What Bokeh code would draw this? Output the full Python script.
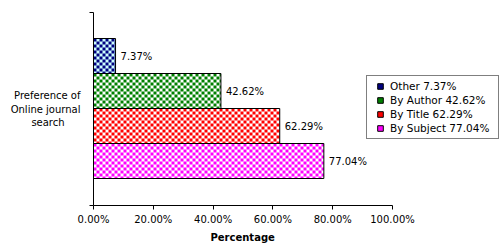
import math
from bokeh.plotting import figure
from bokeh.models import (Range1d, FixedTicker, PrintfTickFormatter, Legend, LegendItem,
                          Title, ColumnDataSource)
from bokeh.embed import file_html
from bokeh.resources import INLINE
from bokeh.core.properties import value

# ---- data ----
categories = ["Other", "By Author", "By Title", "By Subject"]
percentages = [7.37, 42.62, 62.29, 77.04]
fg_colors = ["#000080", "#008000", "#FF0000", "#FF00FF"]
bg_colors = ["#CCFFFF", "#FFFFFF", "#FFFFFF", "#FFFFFF"]
x_ticks = [0, 20, 40, 60, 80, 100]
axis_title = "Percentage"
group_label_lines = ["Preference of", "Online journal", "search"]

FONT = "DejaVu Sans"

W, H = 504, 250
LEFT, TOP, BOTTOM = 93, 12, 45
frame_w = W - LEFT
frame_h = H - TOP - BOTTOM

n = len(categories)
ypos = [n - 1 - i for i in range(n)]  # Other at top
PX_PER_BAR = 35.0
y_end = (n - 1) + 0.5 + 26.0 / PX_PER_BAR
y_start = y_end - frame_h / PX_PER_BAR
x_start, x_end = 0.0, 100.0 * frame_w / 299.0

p = figure(width=W, height=H, output_backend="svg", toolbar_location=None,
           x_range=Range1d(x_start, x_end), y_range=Range1d(y_start, y_end),
           min_border_left=LEFT, min_border_right=0, min_border_top=TOP,
           min_border_bottom=BOTTOM)
p.outline_line_color = None
p.xgrid.visible = False
p.ygrid.visible = False
p.background_fill_color = "white"
p.border_fill_color = "white"

# checker texture cell size (screen px) converted to data units
CELL = 3
dx = CELL * (x_end - x_start) / frame_w
dy = CELL * (y_end - y_start) / frame_h
BAR_H = 1.0

items = []
for i in range(n):
    val = percentages[i]
    yc = ypos[i]
    src = ColumnDataSource(dict(y=[yc], right=[val], lbl=[f"{val:.2f}%"]))
    p.hbar(y="y", right="right", left=0, height=BAR_H, source=src,
           fill_color=bg_colors[i], line_color=None)
    top_y = yc + BAR_H / 2
    bot_y = yc - BAR_H / 2
    ncols = math.ceil(val / dx)
    nrows = math.ceil(BAR_H / dy)
    L, R, T, B = [], [], [], []
    for r in range(nrows):
        for c in range(ncols):
            if (r + c) % 2 == 0:
                L.append(c * dx)
                R.append(min((c + 1) * dx, val))
                T.append(top_y - r * dy)
                B.append(max(top_y - (r + 1) * dy, bot_y))
    p.quad(left=L, right=R, top=T, bottom=B, fill_color=fg_colors[i], line_color=None)
    p.hbar(y="y", right="right", left=0, height=BAR_H, source=src,
           fill_color=None, line_color="black", line_width=1)
    p.text(x="right", y="y", text="lbl", source=src, x_offset=5,
           text_baseline="middle", text_align="left",
           text_font=value(FONT), text_font_size="10px", text_color="black")
    # legend swatch: a NaN point, so it only shows up as the legend glyph
    swatch = p.scatter(x=[float("nan")], y=[float("nan")], marker="square",
                       fill_color=fg_colors[i], line_color="black", line_width=1)
    items.append(LegendItem(label=f"{categories[i]} {val:.2f}%", renderers=[swatch]))

legend = Legend(items=items, location=(273, 66), orientation="vertical",
                padding=3, spacing=0, margin=0, label_height=14, label_width=105,
                label_standoff=0, glyph_width=20, glyph_height=14,
                label_text_font=FONT, label_text_font_size="10.5px", label_text_color="black",
                label_text_baseline="middle",
                border_line_color="black", border_line_width=1,
                background_fill_color="white", background_fill_alpha=1)
p.add_layout(legend, "center")

# x axis
xa = p.xaxis[0]
xa.bounds = (0, 100)
xa.ticker = FixedTicker(ticks=x_ticks)
xa.formatter = PrintfTickFormatter(format="%.2f%%")
xa.major_tick_out = 4
xa.major_tick_in = 0
xa.minor_tick_line_color = None
xa.axis_line_color = "black"
xa.major_tick_line_color = "black"
xa.major_label_text_font = FONT
xa.major_label_text_font_size = "10px"
xa.major_label_text_color = "black"
xa.major_label_standoff = 4

# y axis: single category label centred, ticks at category edges
ymid = (y_start + y_end) / 2
pads = [0, 0, 5]  # non-breaking spaces to centre the shorter lines
shown = "\n".join(s + "\u00a0" * k for s, k in zip(group_label_lines, pads))
ya = p.yaxis[0]
ya.ticker = FixedTicker(ticks=[ymid], minor_ticks=[y_start, y_end])
ya.major_label_overrides = {ymid: shown}
ya.major_tick_line_color = None
ya.major_tick_out = 0
ya.major_tick_in = 0
ya.minor_tick_line_color = "black"
ya.minor_tick_out = 4
ya.minor_tick_in = 0
ya.axis_line_color = "black"
ya.major_label_standoff = 9
ya.major_label_text_font = FONT
ya.major_label_text_font_size = "10px"
ya.major_label_text_color = "black"

p.add_layout(Title(text=axis_title, align="left", offset=117, standoff=4,
                   text_font=FONT, text_font_size="10px", text_font_style="bold",
                   text_color="black"), "below")

open("out.html", "w").write(file_html(p, INLINE))
